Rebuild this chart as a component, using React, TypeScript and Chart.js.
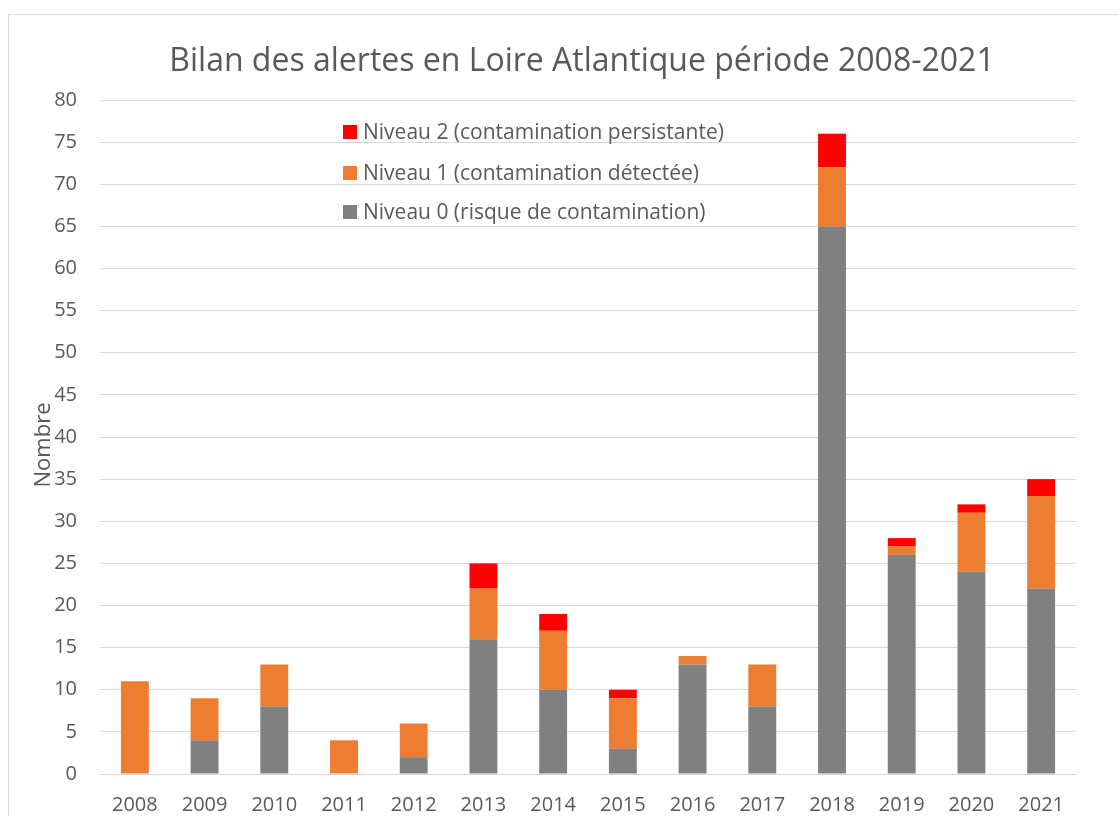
import React, { useEffect, useRef } from "react";
import { Chart, registerables } from "chart.js";

Chart.register(...registerables);

const categories = ["2008", "2009", "2010", "2011", "2012", "2013", "2014", "2015", "2016", "2017", "2018", "2019", "2020", "2021"];
const niveau0 = [0, 4, 8, 0, 2, 16, 10, 3, 13, 8, 65, 26, 24, 22];
const niveau1 = [11, 5, 5, 4, 4, 6, 7, 6, 1, 5, 7, 1, 7, 11];
const niveau2 = [0, 0, 0, 0, 0, 3, 2, 1, 0, 0, 4, 1, 1, 2];
const seriesLabels = [
  "Niveau 0 (risque de contamination)",
  "Niveau 1 (contamination détectée)",
  "Niveau 2 (contamination persistante)",
];
const seriesColors = ["#808080", "#ED7D31", "#FF0000"];
const titleText = "Bilan des alertes en Loire Atlantique période 2008-2021";
const yTitle = "Nombre";

const FONT = "'Open Sans', sans-serif";
const TEXT = "#595959";

const decorPlugin = {
  id: "decor",
  afterLayout(chart: any) {
    const tb = chart.titleBlock;
    if (tb) {
      tb.left = 88;
      tb.right = chart.chartArea.right;
    }
  },
  beforeDraw(chart: any) {
    const ctx = chart.ctx;
    ctx.save();
    ctx.fillStyle = "#ffffff";
    ctx.fillRect(0, 0, chart.width, chart.height);
    ctx.strokeStyle = "#d9d9d9";
    ctx.lineWidth = 1;
    ctx.strokeRect(8.5, 14.5, chart.width + 20, chart.height + 20);
    ctx.restore();
  },
  afterDraw(chart: any) {
    const ctx = chart.ctx;
    ctx.save();
    ctx.translate(44, 445);
    ctx.rotate(-Math.PI / 2);
    ctx.fillStyle = TEXT;
    ctx.font = `22px ${FONT}`;
    ctx.textAlign = "center";
    ctx.textBaseline = "middle";
    ctx.fillText(yTitle, 0, 0);
    ctx.restore();

    ctx.save();
    const ds = chart.data.datasets;
    const order = [2, 1, 0];
    const ys = [132, 173, 212];
    ctx.font = `21px ${FONT}`;
    ctx.textBaseline = "middle";
    ctx.textAlign = "left";
    order.forEach((idx, i) => {
      ctx.fillStyle = ds[idx].backgroundColor;
      ctx.fillRect(343, ys[i] - 7, 14, 14);
      ctx.fillStyle = TEXT;
      ctx.fillText(ds[idx].label, 363, ys[i] + 1);
    });
    ctx.restore();
  },
};

export default function App() {
  const ref = useRef<HTMLCanvasElement>(null);
  useEffect(() => {
    if (!ref.current) return;
    const chart = new Chart(ref.current, {
      type: "bar",
      data: {
        labels: categories,
        datasets: [niveau0, niveau1, niveau2].map((d, i) => ({
          label: seriesLabels[i],
          data: d,
          backgroundColor: seriesColors[i],
          borderWidth: 0,
          barPercentage: 0.4,
          categoryPercentage: 1,
        })),
      },
      options: {
        animation: false,
        responsive: true,
        maintainAspectRatio: false,
        layout: { padding: { left: 0, right: 42, top: 0, bottom: 0 } },
        plugins: {
          legend: { display: false },
          tooltip: { enabled: false },
          title: {
            display: true,
            text: titleText,
            color: TEXT,
            font: { family: FONT, size: 32, weight: "normal" },
            padding: { top: 43, bottom: 18.6 },
          },
        },
        scales: {
          x: {
            stacked: true,
            grid: { display: false, drawTicks: false },
            border: { display: true, color: "#d9d9d9", width: 1 },
            ticks: {
              color: TEXT,
              font: { family: FONT, size: 20 },
              padding: 19,
              maxRotation: 0,
              autoSkip: false,
            },
            afterFit(scale: any) {
              scale.height = 42;
            },
          },
          y: {
            stacked: true,
            min: 0,
            max: 80,
            grid: { color: "#d9d9d9", lineWidth: 1, drawTicks: false },
            border: { display: false },
            ticks: {
              stepSize: 5,
              color: TEXT,
              font: { family: FONT, size: 20 },
              padding: 23,
            },
            afterFit(scale: any) {
              scale.width = 100;
            },
          },
        },
      },
      plugins: [decorPlugin],
    });
    return () => chart.destroy();
  }, []);
  return (
    <div style={{ position: "fixed", left: 0, top: 0, width: 1118, height: 816, overflow: "hidden", background: "#fff" }}>
      <canvas ref={ref} />
    </div>
  );
}
